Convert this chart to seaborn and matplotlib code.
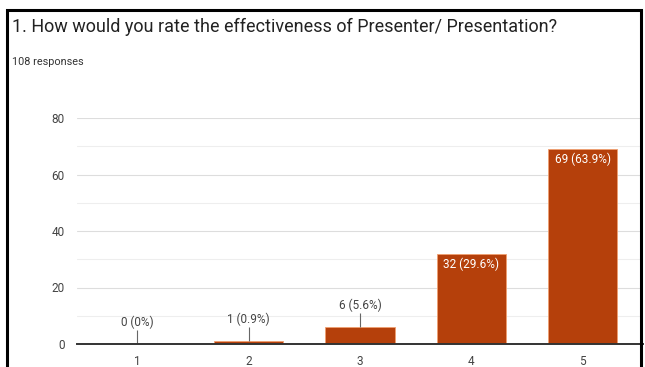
import matplotlib
matplotlib.use("Agg")
import matplotlib.pyplot as plt
import seaborn as sns
from matplotlib.patches import Rectangle
from matplotlib.ticker import MultipleLocator

sns.set_theme(style="white")
plt.rcParams['font.family'] = ['Roboto', 'DejaVu Sans']

# data
ratings = ['1', '2', '3', '4', '5']
counts = [0, 1, 6, 32, 69]
percents = ['0%', '0.9%', '5.6%', '29.6%', '63.9%']
total = 108

title = '1. How would you rate the effectiveness of Presenter/ Presentation?'
subtitle = f'{total} responses'

W, H = 645, 367
fig = plt.figure(figsize=(W / 100, H / 100), dpi=100)
fig.patch.set_facecolor('white')

# axes placed in pixel terms
left, right, bottom, top = 77, 643, 344, 118
ax = fig.add_axes([left / W, (H - bottom) / H, (right - left) / W, (bottom - top) / H])

bar_color = '#B5400B'
sns.barplot(x=ratings, y=counts, color=bar_color, width=0.62, ax=ax,
            edgecolor='#F0A070', linewidth=0.6, saturation=1)

ax.set_ylim(0, 80)
ax.yaxis.set_major_locator(MultipleLocator(20))
ax.yaxis.set_minor_locator(MultipleLocator(10))
ax.grid(axis='y', which='major', color='#DDDDDD', linewidth=0.8)
ax.grid(axis='y', which='minor', color='#EEEEEE', linewidth=0.8)
ax.set_axisbelow(True)
for s in ['top', 'right', 'left']:
    ax.spines[s].set_visible(False)
ax.spines['bottom'].set_color('#333333')
ax.spines['bottom'].set_linewidth(1.4)
ax.tick_params(axis='both', length=0, labelsize=8.5, labelcolor='#444444')
ax.tick_params(axis='x', pad=8)
ax.tick_params(axis='y', pad=9)
ax.set_xlabel('')
ax.set_ylabel('')

# value labels
for i, (c, p) in enumerate(zip(counts, percents)):
    label = f'{c} ({p})'
    if c < 20:
        ax.vlines(i, c, c + 5, color='#666666', linewidth=0.8)
        ax.text(i, c + 5.4, label, ha='center', va='bottom', fontsize=8.5, color='#444444')
    else:
        ax.text(i, c - 1.4, label, ha='center', va='top', fontsize=8.5, color='white')

fig.text(12 / W, 1 - 27 / H, title, ha='left', va='center', fontsize=13, color='#222222')
fig.text(12 / W, 1 - 62 / H, subtitle, ha='left', va='center', fontsize=7.8, color='#333333')

# black frame around the card
fig.patches.append(Rectangle((7 / W, -0.05), (641 - 7) / W, 1.05 - 10 / H,
                             transform=fig.transFigure, fill=False,
                             edgecolor='black', linewidth=2.2))

fig.savefig('out.png', dpi=100)
